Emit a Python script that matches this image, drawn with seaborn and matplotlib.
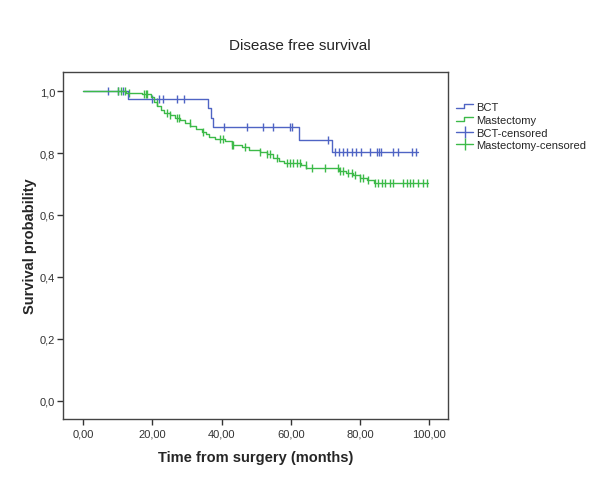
import numpy as np
import pandas as pd
import matplotlib
matplotlib.use("Agg")
import matplotlib.pyplot as plt
import seaborn as sns
from matplotlib.lines import Line2D
from matplotlib.legend_handler import HandlerBase
from matplotlib.ticker import FuncFormatter

# Kaplan-Meier steps (months, survival)
bct_time = [0, 13, 36, 37, 37.6, 62.4, 72, 96.8]
bct_surv = [1.0, 0.974, 0.945, 0.914, 0.884, 0.842, 0.802, 0.802]
bct_cens = [7.2, 10.1, 11.5, 20, 22, 23, 27.2, 29.2, 40.8, 47.4, 52, 55, 59.8, 60.4,
            70.8, 72.8, 74, 75.2, 76.3, 77.7, 78.9, 80.3, 83, 85, 85.6, 86.1, 89.6,
            91, 95, 96.2]

mast_time = [0, 12.5, 17, 19.5, 20.5, 21.5, 22.5, 23.5, 25, 26.5, 28, 29.5, 31, 32.5,
             34.5, 35.5, 36.5, 38, 41, 43, 46, 48, 51, 53, 55, 56.5, 58, 63, 64.5,
             74, 76, 78, 80, 82, 84, 99.7]
mast_surv = [1.0, 0.995, 0.99, 0.98, 0.965, 0.953, 0.94, 0.93, 0.922, 0.913, 0.905,
             0.897, 0.888, 0.878, 0.868, 0.86, 0.852, 0.845, 0.838, 0.825, 0.818, 0.81,
             0.803, 0.797, 0.785, 0.775, 0.768, 0.76, 0.75, 0.743, 0.735, 0.728, 0.72,
             0.712, 0.703, 0.703]
mast_cens = [10.1, 11, 12, 13.3, 17.6, 18.2, 18.5, 21.4, 24.3, 25.1, 27.1, 27.8, 30.9,
             34.7, 39.6, 40.5, 43, 43.4, 46.8, 51.2, 53.1, 54, 56.1, 58.9, 59.8, 60.8,
             61.8, 62.7, 64.4, 66.1, 69.9, 73.7, 74.3, 75.2, 76.6, 77.7, 78.6, 80.1, 81,
             82.4, 84.4, 85.3, 86.3, 87.3, 88.7, 89.6, 92.5, 93.6, 94.5, 95.4, 96.8,
             98.3, 99.4]

groups = ["BCT", "Mastectomy"]
colors = {"BCT": "#4f64c4", "Mastectomy": "#3cba48"}


def surv_at(times, survs, t):
    i = np.searchsorted(times, t, side="right") - 1
    return np.asarray(survs)[i]


curves = pd.concat([
    pd.DataFrame({"time": bct_time, "surv": bct_surv, "group": "BCT"}),
    pd.DataFrame({"time": mast_time, "surv": mast_surv, "group": "Mastectomy"}),
])
cens = pd.concat([
    pd.DataFrame({"time": bct_cens, "surv": surv_at(bct_time, bct_surv, bct_cens), "group": "BCT"}),
    pd.DataFrame({"time": mast_cens, "surv": surv_at(mast_time, mast_surv, mast_cens), "group": "Mastectomy"}),
])

sns.set_style("white")
plt.rcParams["font.family"] = ["Liberation Sans", "DejaVu Sans"]

fig = plt.figure(figsize=(6, 4.81), dpi=100)
ax = fig.add_axes([0.105, 0.127, 0.642, 0.721])

for g in groups:
    sns.lineplot(data=curves[curves.group == g], x="time", y="surv", color=colors[g],
                 drawstyle="steps-post", lw=1.0, ax=ax, estimator=None, legend=False)
    sns.scatterplot(data=cens[cens.group == g], x="time", y="surv", color=colors[g],
                    marker="|", s=36, linewidth=1.0, ax=ax, legend=False)

ax.set_xlim(-5.8, 105.5)
ax.set_ylim(-0.058, 1.061)
ax.set_xticks([0, 20, 40, 60, 80, 100])
ax.set_yticks([0, 0.2, 0.4, 0.6, 0.8, 1.0])
ax.xaxis.set_major_formatter(FuncFormatter(lambda v, p: f"{v:.2f}".replace(".", ",")))
ax.yaxis.set_major_formatter(FuncFormatter(lambda v, p: f"{v:.1f}".replace(".", ",")))
ax.tick_params(axis="both", which="major", direction="out", length=4, width=1,
               color="#333333", labelsize=8, labelcolor="#333333", left=True, bottom=True,
               pad=3)
ax.tick_params(axis="y", pad=1.5)
for s in ax.spines.values():
    s.set_color("#444444")
    s.set_linewidth(1.0)

ax.set_xlabel("Time from surgery (months)", fontsize=10.5, fontweight="bold", labelpad=8)
ax.set_ylabel("Survival probability", fontsize=10.5, fontweight="bold", labelpad=2)
fig.text(0.5, 0.905, "Disease free survival", ha="center", va="center", fontsize=11)


class StepHandler(HandlerBase):
    def create_artists(self, legend, orig, xd, yd, w, h, fs, trans):
        xs = [xd, xd + w * 0.45, xd + w * 0.45, xd + w]
        ys = [yd + h * 0.2, yd + h * 0.2, yd + h * 0.8, yd + h * 0.8]
        ln = Line2D(xs, ys, color=orig.get_color(), lw=1.0, transform=trans)
        return [ln]


handles = [
    Line2D([], [], color=colors["BCT"]),
    Line2D([], [], color=colors["Mastectomy"]),
    Line2D([], [], color=colors["BCT"], marker="|", markersize=8, lw=1.0),
    Line2D([], [], color=colors["Mastectomy"], marker="|", markersize=8, lw=1.0),
]
labels = ["BCT", "Mastectomy", "BCT-censored", "Mastectomy-censored"]
fig.legend(handles, labels, loc="upper left", bbox_to_anchor=(0.752, 0.795),
           frameon=False, fontsize=8, handlelength=1.6, handletextpad=0.2,
           labelspacing=0.25, borderaxespad=0,
           handler_map={handles[0]: StepHandler(), handles[1]: StepHandler()})

fig.savefig("out.png", dpi=100)
